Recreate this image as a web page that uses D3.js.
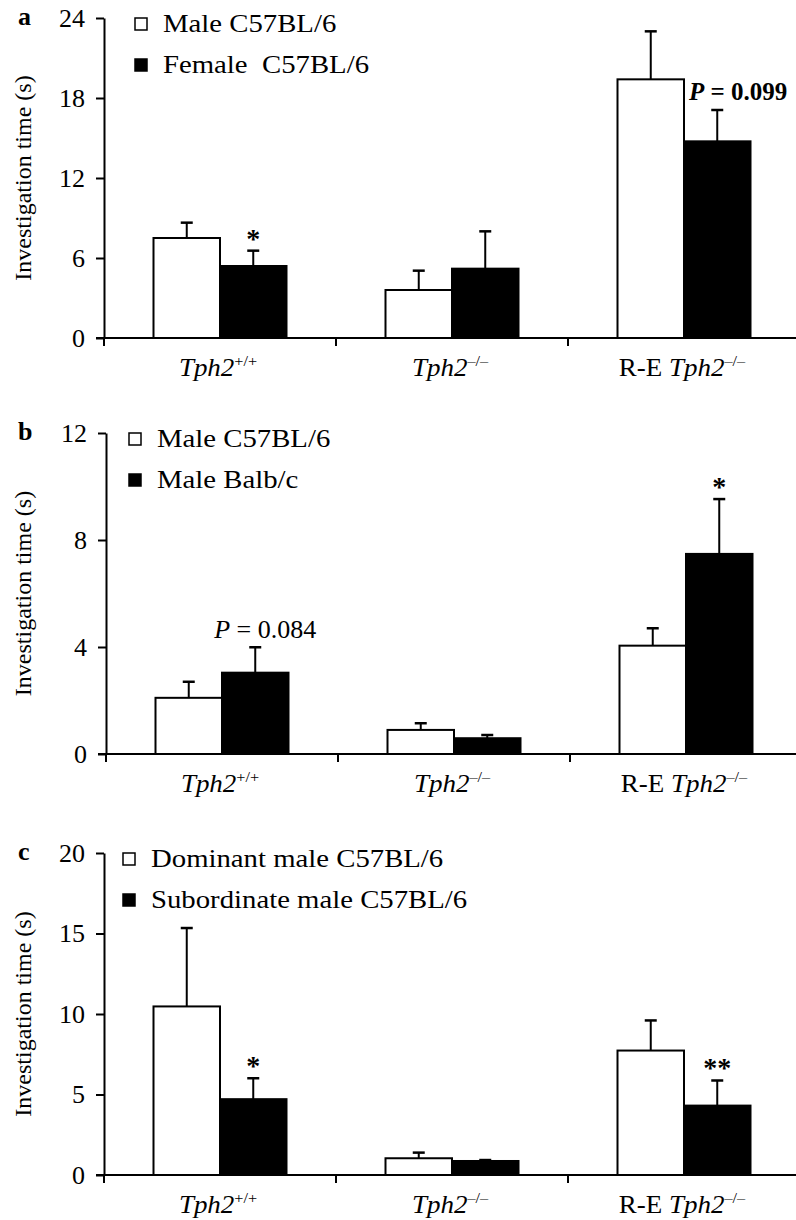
<!DOCTYPE html>
<html>
<head>
<meta charset="utf-8">
<title>Investigation time</title>
<script src="https://cdn.jsdelivr.net/npm/d3@7"></script>
<style>
  body { margin: 0; background: #fff; }
  svg text { font-family: "Liberation Serif", "Times New Roman", serif; fill: #000; }
</style>
</head>
<body>
<script>
// categories (genotypes) shared by all three panels
var genotypes = ["wt", "ko", "re"];
var genoPrefix = ["", "", "R-E "];
var genoSup = ["+/+", "\u2013/\u2013", "\u2013/\u2013"];

// panel a
var seriesA = ["Male C57BL/6", "Female  C57BL/6"];
var maleA = [7.5, 3.6, 19.4],  maleA_sem = [1.15, 1.45, 3.6];
var femA  = [5.4, 5.2, 14.75], femA_sem  = [1.15, 2.8, 2.35];
var ticksA = [0, 6, 12, 18, 24];

// panel b
var seriesB = ["Male C57BL/6", "Male Balb/c"];
var maleB = [2.1, 0.9, 4.05], maleB_sem = [0.6, 0.25, 0.65];
var balbB = [3.04, 0.59, 7.48], balbB_sem = [0.95, 0.12, 2.05];
var ticksB = [0, 4, 8, 12];

// panel c
var seriesC = ["Dominant male C57BL/6", "Subordinate male C57BL/6"];
var domC = [10.47, 1.04, 7.73], domC_sem = [4.87, 0.35, 1.87];
var subC = [4.71, 0.87, 4.31], subC_sem = [1.3, 0.06, 1.56];
var ticksC = [0, 5, 10, 15, 20];

// significance marks: [genotype index, series index, label]
var starsA = [[0, 1, "*"]];
var starsB = [[2, 1, "*"]];
var starsC = [[0, 1, "*"], [2, 1, "**"]];

var W = 796, H = 1220;
var svg = d3.select("body").append("svg").attr("width", W).attr("height", H);

var FS = 25;

function panel(opt) {
    var g = svg.append("g");
    var x0 = opt.axisX, band = 232;

    var y = d3.scaleLinear().domain([0, opt.max]).range([opt.bottom, opt.top]);
    var x = d3.scaleBand().domain(genotypes).range([x0, x0 + band * 3]);
    var xs = d3.scaleBand().domain([0, 1]).range([0, 133]);
    var off = (band - 133) / 2;

    // y axis
    var ya = g.append("g").attr("transform", "translate(" + x0 + ",0)")
        .call(d3.axisLeft(y).tickValues(opt.ticks).tickSize(8).tickPadding(11).tickSizeOuter(0));
    ya.select(".domain").attr("stroke-width", 2);
    ya.selectAll(".tick line").attr("stroke-width", 2);
    ya.selectAll(".tick text").style("font-size", "26px").attr("font-family", null);

    // x axis (ticks at band edges)
    g.append("line").attr("x1", x0 - 8).attr("x2", W).attr("y1", opt.bottom).attr("y2", opt.bottom)
        .attr("stroke", "#000").attr("stroke-width", 2);
    g.selectAll(".xt").data(genotypes).enter().append("line")
        .attr("x1", function (d) { return x(d); }).attr("x2", function (d) { return x(d); })
        .attr("y1", opt.bottom).attr("y2", opt.bottom + 8)
        .attr("stroke", "#000").attr("stroke-width", 2);

    var lab = g.selectAll(".xl").data(genotypes).enter().append("text")
        .attr("transform", function (d) {
            return "translate(" + (x(d) + band / 2 - 2) + "," + (opt.bottom + 38) + ") scale(1.08,1)";
        })
        .attr("text-anchor", "middle")
        .style("font-size", FS + "px");
    lab.append("tspan").text(function (d, i) { return genoPrefix[i]; });
    lab.append("tspan").style("font-style", "italic").text("Tph2");
    lab.append("tspan").style("font-size", "15px").attr("dy", -10).text(function (d, i) { return genoSup[i]; });

    // bars
    var rows = [];
    opt.vals.forEach(function (arr, s) {
        arr.forEach(function (v, i) {
            rows.push({ g: genotypes[i], s: s, v: v, e: opt.sems[s][i] });
        });
    });
    var bx = function (d) { return x(d.g) + off + xs(d.s); };

    g.selectAll(".err").data(rows).enter().append("line")
        .attr("x1", function (d) { return bx(d) + xs.bandwidth() / 2; })
        .attr("x2", function (d) { return bx(d) + xs.bandwidth() / 2; })
        .attr("y1", function (d) { return y(d.v); })
        .attr("y2", function (d) { return y(d.v + d.e); })
        .attr("stroke", "#000").attr("stroke-width", 2);
    g.selectAll(".cap").data(rows).enter().append("line")
        .attr("x1", function (d) { return bx(d) + xs.bandwidth() / 2 - 6; })
        .attr("x2", function (d) { return bx(d) + xs.bandwidth() / 2 + 6; })
        .attr("y1", function (d) { return y(d.v + d.e); })
        .attr("y2", function (d) { return y(d.v + d.e); })
        .attr("stroke", "#000").attr("stroke-width", 2.5);

    g.selectAll(".bar").data(rows).enter().append("rect")
        .attr("x", bx)
        .attr("y", function (d) { return y(d.v); })
        .attr("width", xs.bandwidth())
        .attr("height", function (d) { return opt.bottom - y(d.v); })
        .attr("fill", function (d) { return d.s ? "#000" : "#fff"; })
        .attr("stroke", "#000").attr("stroke-width", 2);

    // stars
    opt.stars.forEach(function (st) {
        var d = rows.filter(function (r) { return r.g === genotypes[st[0]] && r.s === st[1]; })[0];
        g.append("text")
            .attr("x", bx(d) + xs.bandwidth() / 2)
            .attr("y", y(d.v + d.e) - 3)
            .attr("text-anchor", "middle")
            .style("font-size", "28px").style("font-weight", "bold")
            .text(st[2]);
    });

    // legend
    var lg = g.append("g");
    opt.names.forEach(function (n, s) {
        var ly = opt.top + s * 41;
        lg.append("rect").attr("x", opt.legX).attr("y", ly).attr("width", 12).attr("height", 12)
            .attr("fill", s ? "#000" : "#fff").attr("stroke", "#000").attr("stroke-width", 1.5);
        lg.append("text")
            .attr("transform", "translate(" + (opt.legX + 28) + "," + (ly + 13.5) + ") scale(1.15,1)")
            .style("font-size", FS + "px").style("white-space", "pre").text(n);
    });

    // panel letter
    g.append("text").attr("x", 18).attr("y", opt.top + 7)
        .style("font-size", "26px").style("font-weight", "bold").text(opt.letter);

    // y label
    g.append("text")
        .attr("transform", "translate(31," + ((opt.top + opt.bottom) / 2) + ") rotate(-90)")
        .attr("text-anchor", "middle")
        .style("font-size", "24px")
        .text("Investigation time (s)");

    return { g: g, x: x, y: y, bx: bx, xs: xs, rows: rows };
}

var pa = panel({ letter: "a", axisX: 104, top: 18, bottom: 338, max: 24, ticks: ticksA,
    vals: [maleA, femA], sems: [maleA_sem, femA_sem], names: seriesA, legX: 135, stars: starsA });
var pb = panel({ letter: "b", axisX: 106, top: 433, bottom: 754, max: 12, ticks: ticksB,
    vals: [maleB, balbB], sems: [maleB_sem, balbB_sem], names: seriesB, legX: 129, stars: starsB });
var pc = panel({ letter: "c", axisX: 104, top: 853, bottom: 1175, max: 20, ticks: ticksC,
    vals: [domC, subC], sems: [domC_sem, subC_sem], names: seriesC, legX: 123, stars: starsC });

// P-value notes
var ra = pa.rows.filter(function (r) { return r.g === "re" && r.s === 1; })[0];
var tA = pa.g.append("text").attr("x", pa.bx(ra) + 5).attr("y", pa.y(ra.v + ra.e) - 10)
    .style("font-size", "25px").style("font-weight", "bold").style("white-space", "pre");
tA.append("tspan").style("font-style", "italic").text("P");
tA.append("tspan").text(" = 0.099");

var rb = pb.rows.filter(function (r) { return r.g === "wt" && r.s === 1; })[0];
var tB = pb.g.append("text").attr("x", pb.bx(rb) + pb.xs.bandwidth() / 2 + 10).attr("y", pb.y(rb.v + rb.e) - 9)
    .attr("text-anchor", "middle")
    .style("font-size", "26px").style("white-space", "pre");
tB.append("tspan").style("font-style", "italic").text("P");
tB.append("tspan").text(" = 0.084");
</script>
</body>
</html>
